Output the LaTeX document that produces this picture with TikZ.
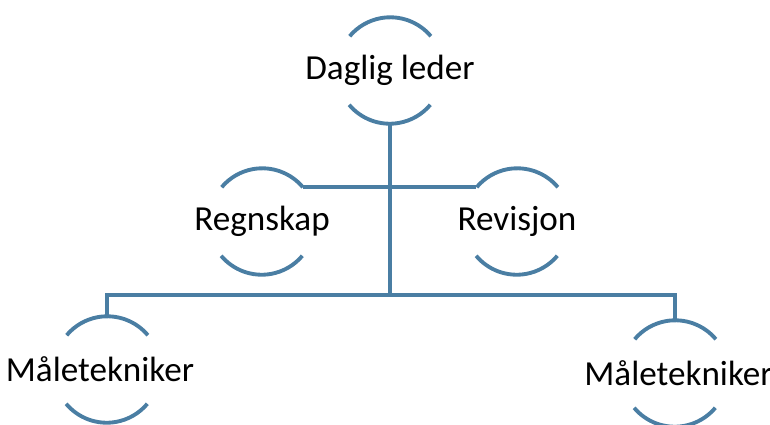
\documentclass[tikz,border=0pt]{standalone}
\usepackage{fontspec}
\setmainfont{Carlito}
\definecolor{orgblue}{RGB}{74,126,163}
\begin{document}
\begin{tikzpicture}[x=0.02cm, y=-0.02cm,
        unit/.style={circle, minimum size=2.12cm, inner sep=0pt},
        titletext/.style={font=\fontsize{20}{24}\selectfont},
        link/.style={orgblue, line width=2.2pt}]
        \useasboundingbox (0,0) rectangle (770,424);

        \node[unit, label={[titletext]center:Daglig leder}] (leder) at (390,70.5) {};
        \node[unit, label={[titletext]center:Regnskap}] (regnskap) at (262,221.5) {};
        \node[unit, label={[titletext]center:Revisjon}] (revisjon) at (517,221.5) {};
        \node[unit, label={[titletext, xshift=-4pt]center:Måletekniker}] (tekn1) at (107,369.5) {};
        \node[unit, label={[titletext, xshift=2pt]center:Måletekniker}] (tekn2) at (675,373.5) {};

        % half circles round each title
        \foreach \n in {leder, regnskap, revisjon, tekn1, tekn2} {
            \draw[link] (\n.40) arc (40:140:1.06cm);
            \draw[link] (\n.220) arc (220:320:1.06cm);
        }

        \coordinate (knekk) at (390,295);
        \draw[link] (leder.south) -- (knekk);
        \draw[link] (regnskap.40) -- (revisjon.140);
        \draw[link] (tekn1.north) -- (tekn1.north |- knekk) -- (tekn2.north |- knekk) -- (tekn2.north);
    \end{tikzpicture}
\end{document}
